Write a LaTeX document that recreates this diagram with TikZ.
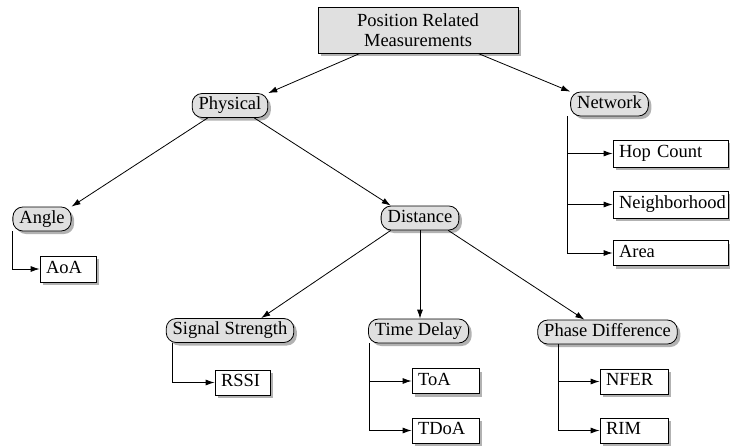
\documentclass[tikz,border=0pt]{standalone}
\usepackage{fontspec}
\setmainfont{Liberation Serif}
\usetikzlibrary{arrows.meta,shadows}
\begin{document}
\begin{tikzpicture}[x=1pt,y=-1pt,
  every node/.style={font=\fontsize{18.5}{20}\selectfont, line width=0.8pt},
  shad/.style={drop shadow={shadow xshift=3pt,shadow yshift=-3pt,fill=black!30,opacity=1}},
  rootbox/.style={draw, fill=black!12, shad, minimum width=200pt, minimum height=46pt, align=center, inner sep=0pt},
  rbox/.style={draw, fill=black!12, shad, rounded corners=10pt, inner xsep=6.5pt, inner ysep=0pt, minimum height=24pt, text height=12.5pt, text depth=4pt},
  sq/.style={draw, fill=white, shad, inner xsep=6pt, inner ysep=0pt, minimum height=25pt, text height=12.5pt, text depth=4pt, align=left, text width=#1},
  arr/.style={line width=0.8pt, -{Latex[length=9pt,width=6pt]}},
  ln/.style={line width=0.8pt}
]
\useasboundingbox (0,0) rectangle (730,445);

\node[rootbox] (root) at (418,30) {Position Related\\Measurements};

\node[rbox] (phys) at (230,105.5) {Physical};
\node[rbox] (net) at (609.5,104) {Network};
\node[rbox] (angle) at (42,219) {Angle};
\node[rbox] (dist) at (420,218) {Distance};
\node[rbox] (sig) at (230,330.5) {Signal Strength};
\node[rbox] (time) at (418.5,331) {Time Delay};
\node[rbox] (phase) at (607.5,332) {Phase Difference};

\node[sq=103pt, minimum height=27pt] (hop) at (670.5,153.5) {Hop Count};
\node[sq=103pt, minimum height=27pt] (nbh) at (670.5,204.5) {Neighborhood};
\node[sq=103pt, minimum height=25pt] (area) at (670.5,253) {Area};

\node[sq=44pt, minimum height=26pt] (aoa) at (68,269) {AoA};
\node[sq=43pt] (rssi) at (242.5,382.5) {RSSI};
\node[sq=55pt] (toa) at (445.5,381) {ToA};
\node[sq=55pt] (tdoa) at (445.5,430.5) {TDoA};
\node[sq=56pt] (nfer) at (634,381.5) {NFER};
\node[sq=56pt] (rim) at (634,430.5) {RIM};

% tree arrows
\draw[arr] ([xshift=-58pt]root.south) -- (phys.north east);
\draw[arr] ([xshift=60pt]root.south) -- (net.north west);
\draw[arr] ([xshift=16pt]phys.south west) -- (angle.north east);
\draw[arr] ([xshift=-14pt]phys.south east) -- ([xshift=10pt]dist.north west);
\draw[arr] ([xshift=10pt]dist.south west) -- ([xshift=-33pt]sig.north east);
\draw[arr] (dist.south) -- (dist.south |- time.north);
\draw[arr] ([xshift=-11pt]dist.south east) -- ([xshift=47pt]phase.north west);

% list connectors
\draw[ln] ([xshift=-3pt]net.south west) -- ([xshift=-3pt]net.south west |- area.west);
\draw[arr] ([xshift=-3pt]net.south west) |- (hop.west);
\draw[arr] ([xshift=-3pt]net.south west) |- (nbh.west);
\draw[arr] ([xshift=-3pt]net.south west) |- (area.west);

\draw[arr] (angle.south west) |- (aoa.west);
\draw[arr] ([xshift=7pt]sig.south west) |- (rssi.west);
\draw[arr] ([xshift=1pt]time.south west) |- (toa.west);
\draw[arr] ([xshift=1pt]time.south west) |- (tdoa.west);
\draw[arr] ([xshift=21pt]phase.south west) |- (nfer.west);
\draw[arr] ([xshift=21pt]phase.south west) |- (rim.west);
\end{tikzpicture}
\end{document}
